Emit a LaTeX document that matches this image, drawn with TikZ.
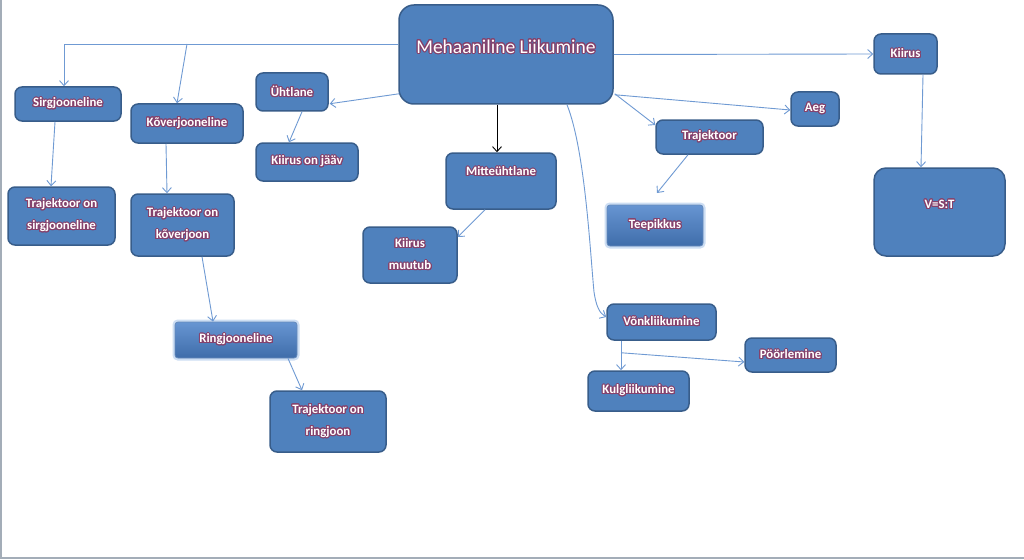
\documentclass[tikz,border=0pt]{standalone}
\usepackage{fontspec}
\setmainfont{Carlito}
\usepackage{contour}
\usetikzlibrary{arrows.meta,calc}
\definecolor{boxfill}{HTML}{4F81BD}
\definecolor{boxline}{HTML}{385D8A}
\definecolor{connc}{HTML}{6F9AD3}
\definecolor{glowc}{HTML}{86426C}
\definecolor{framec}{HTML}{A3ADB8}
\definecolor{halo}{HTML}{B8D0EE}
\definecolor{glosstop}{HTML}{6795D2}
\definecolor{glossbot}{HTML}{3F6DAA}
\contourlength{1pt}
\contournumber{24}
\newcommand{\gl}[1]{\contour{glowc}{#1}}
\begin{document}
\begin{tikzpicture}[x=1pt,y=-1pt,
  box/.style={draw=boxline,line width=1.5pt,fill=boxfill,rounded corners=7pt,inner sep=0pt,
    text=white,font=\bfseries\fontsize{12.8}{22}\selectfont,align=center},
  gloss/.style={preaction={draw=halo,line width=5pt,opacity=0.7},draw=glossbot!80!white,line width=0.8pt,
    top color=glosstop,bottom color=glossbot,rounded corners=3pt,inner sep=0pt,
    text=white,font=\bfseries\fontsize{12.8}{22}\selectfont,align=center},
  lbl/.style={inner sep=0pt,text=white,align=center},
  conn/.style={draw=connc,line width=0.9pt,-{Straight Barb[length=5pt,width=9pt]}},
  darkconn/.style={draw=black,line width=0.9pt,-{Straight Barb[length=5pt,width=9pt]}}
]
\useasboundingbox (0,0) rectangle (1024,559);
\fill[white] (0,0) rectangle (1024,559);
\draw[framec,line width=1.2pt] (1,0) -- (1,558) -- (1024,558);

% nodes
\node[box,rounded corners=15pt,minimum width=214pt,minimum height=99pt] (main) at (506,54.5) {};
\node[lbl,font=\fontsize{19.5}{22}\selectfont] (maint) at (506,47) {\gl{Mehaaniline Liikumine}};
\node[box,minimum width=106pt,minimum height=34pt] (sirg) at (68,104) {\gl{Sirgjooneline}};
\node[box,minimum width=112pt,minimum height=39pt] (kover) at (187,123.5) {\gl{Kõverjooneline}};
\node[box,minimum width=72pt,minimum height=38pt] (uhtl) at (292,92) {\gl{Ühtlane}};
\node[box,minimum width=102pt,minimum height=38pt] (kjaav) at (307,162) {\gl{Kiirus on jääv}};
\node[box,minimum width=107pt,minimum height=58pt] (tsirg) at (61.5,216) {\gl{Trajektoor on}\\\gl{sirgjooneline}};
\node[box,minimum width=103pt,minimum height=62pt] (tkover) at (182.5,225) {\gl{Trajektoor on}\\\gl{kõverjoon}};
\node[gloss,minimum width=122pt,minimum height=36pt] (ring) at (236,340) {\gl{Ringjooneline}};
\node[box,minimum width=116pt,minimum height=61pt] (tring) at (328,421.5) {\gl{Trajektoor on}\\\gl{ringjoon}};
\node[box,minimum width=110pt,minimum height=56pt] (mitte) at (501,181) {};
\node[lbl,font=\bfseries\fontsize{12.8}{22}\selectfont] (mittet) at (501,172) {\gl{Mitteühtlane}};
\node[box,minimum width=94pt,minimum height=56pt] (kmuut) at (410,255) {\gl{Kiirus}\\\gl{muutub}};
\node[box,minimum width=107pt,minimum height=34pt] (traj) at (709.5,137) {\gl{Trajektoor}};
\node[gloss,minimum width=96pt,minimum height=41pt] (teep) at (655,225.5) {\gl{Teepikkus}};
\node[box,minimum width=48pt,minimum height=34pt] (aeg) at (815,109) {\gl{Aeg}};
\node[box,minimum width=63pt,minimum height=40pt] (kiirus) at (905.5,54) {\gl{Kiirus}};
\node[box,rounded corners=12pt,minimum width=131pt,minimum height=88pt] (vst) at (939.5,212) {};
\node[lbl,font=\bfseries\fontsize{12.8}{22}\selectfont] (vstt) at (939.5,205) {\gl{V=S:T}};
\node[box,minimum width=109pt,minimum height=36pt] (vonk) at (661.5,322) {\gl{Võnkliikumine}};
\node[box,minimum width=91pt,minimum height=34pt] (poor) at (790.5,355) {\gl{Pöörlemine}};
\node[box,minimum width=101pt,minimum height=40pt] (kulg) at (638.5,391) {\gl{Kulgliikumine}};

% connectors
\coordinate (j1) at (64,44);
\coordinate (j2) at (187,44);
\draw[conn] ($(main.west)+(0,-10.5)$) -- (j1) -- (sirg.north -| j1);
\draw[conn] (j2) -- ($(kover.north)+(-10,0)$);
\draw[conn] ($(main.south west)+(1,-11)$) -- ($(uhtl.south east)+(1,-8)$);
\draw[conn] ($(sirg.south)+(-13,0)$) -- ($(tsirg.north)+(-10.5,0)$);
\draw[conn] ($(kover.south)+(-21,0)$) -- ($(tkover.north)+(-15.5,0)$);
\draw[conn] ($(uhtl.south)+(10,0)$) -- ($(kjaav.north)+(-18,0)$);
\draw[conn] ($(tkover.south)+(19.5,0)$) -- ($(ring.north)+(-23,0)$);
\draw[conn] ($(ring.south)+(52,0)$) -- ($(tring.north)+(-26,0)$);
\draw[darkconn] ($(main.south)+(-9,0)$) -- ($(mitte.north)+(-4,0)$);
\draw[conn] ($(mitte.south)+(-16,0)$) -- ($(kmuut.east)+(0,-18)$);
\draw[conn] ($(main.south)+(61,0)$) .. controls (585,150) and (590,250) .. (594,292)
  .. controls (596,305) and (599,313) .. ($(vonk.west)+(0,-5)$);
\draw[conn] ($(main.south east)+(1,-11)$) -- ($(traj.west)+(0,-12)$);
\draw[conn] ($(main.south east)+(1,-10)$) -- ($(aeg.west)+(0,1)$);
\draw[conn] (main.east) -- (kiirus.west);
\coordinate (tfree) at (657,193);
\draw[conn] ($(traj.south)+(-21.5,0)$) -- (tfree);
\draw[conn] ($(kiirus.south)+(17.5,0)$) -- ($(vst.north)+(-18.5,0)$);
\coordinate (vj) at ($(vonk.south)+(-40.5,12)$);
\draw[conn] ($(vonk.south)+(-40.5,0)$) -- ($(kulg.north)+(-17.5,0)$);
\draw[conn] (vj) -- ($(poor.west)+(0,7)$);
\end{tikzpicture}
\end{document}
